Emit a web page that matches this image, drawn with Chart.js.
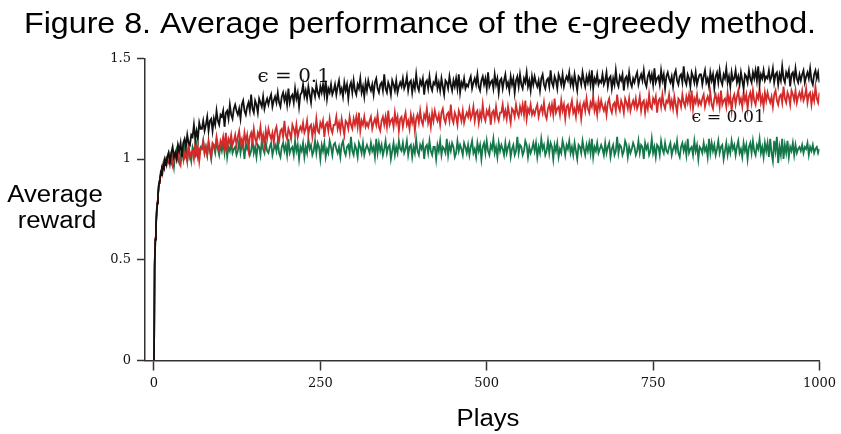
<!DOCTYPE html>
<html>
<head>
<meta charset="utf-8">
<script src="https://cdn.jsdelivr.net/npm/chart.js@4.4.1/dist/chart.umd.min.js"></script>
<style>
  html, body { margin: 0; padding: 0; background: #fff; }
  #wrap { width: 841px; height: 434px; }
</style>
</head>
<body>
<div id="wrap"><canvas id="chart" width="841" height="434"></canvas></div>
<script>
// plays: every play up to 20, then every 2nd play
const plays = [
  0, 1, 2, 3, 4, 5, 6, 7, 8, 9, 10, 11, 12, 13, 14, 15, 16, 17, 18, 19, 20,
  22, 24, 26, 28, 30, 32, 34, 36, 38, 40, 42, 44, 46, 48, 50, 52, 54, 56, 58, 60, 62, 64, 66, 68, 70,
  72, 74, 76, 78, 80, 82, 84, 86, 88, 90, 92, 94, 96, 98, 100, 102, 104, 106, 108, 110, 112, 114, 116, 118, 120,
  122, 124, 126, 128, 130, 132, 134, 136, 138, 140, 142, 144, 146, 148, 150, 152, 154, 156, 158, 160, 162, 164, 166, 168, 170,
  172, 174, 176, 178, 180, 182, 184, 186, 188, 190, 192, 194, 196, 198, 200, 202, 204, 206, 208, 210, 212, 214, 216, 218, 220,
  222, 224, 226, 228, 230, 232, 234, 236, 238, 240, 242, 244, 246, 248, 250, 252, 254, 256, 258, 260, 262, 264, 266, 268, 270,
  272, 274, 276, 278, 280, 282, 284, 286, 288, 290, 292, 294, 296, 298, 300, 302, 304, 306, 308, 310, 312, 314, 316, 318, 320,
  322, 324, 326, 328, 330, 332, 334, 336, 338, 340, 342, 344, 346, 348, 350, 352, 354, 356, 358, 360, 362, 364, 366, 368, 370,
  372, 374, 376, 378, 380, 382, 384, 386, 388, 390, 392, 394, 396, 398, 400, 402, 404, 406, 408, 410, 412, 414, 416, 418, 420,
  422, 424, 426, 428, 430, 432, 434, 436, 438, 440, 442, 444, 446, 448, 450, 452, 454, 456, 458, 460, 462, 464, 466, 468, 470,
  472, 474, 476, 478, 480, 482, 484, 486, 488, 490, 492, 494, 496, 498, 500, 502, 504, 506, 508, 510, 512, 514, 516, 518, 520,
  522, 524, 526, 528, 530, 532, 534, 536, 538, 540, 542, 544, 546, 548, 550, 552, 554, 556, 558, 560, 562, 564, 566, 568, 570,
  572, 574, 576, 578, 580, 582, 584, 586, 588, 590, 592, 594, 596, 598, 600, 602, 604, 606, 608, 610, 612, 614, 616, 618, 620,
  622, 624, 626, 628, 630, 632, 634, 636, 638, 640, 642, 644, 646, 648, 650, 652, 654, 656, 658, 660, 662, 664, 666, 668, 670,
  672, 674, 676, 678, 680, 682, 684, 686, 688, 690, 692, 694, 696, 698, 700, 702, 704, 706, 708, 710, 712, 714, 716, 718, 720,
  722, 724, 726, 728, 730, 732, 734, 736, 738, 740, 742, 744, 746, 748, 750, 752, 754, 756, 758, 760, 762, 764, 766, 768, 770,
  772, 774, 776, 778, 780, 782, 784, 786, 788, 790, 792, 794, 796, 798, 800, 802, 804, 806, 808, 810, 812, 814, 816, 818, 820,
  822, 824, 826, 828, 830, 832, 834, 836, 838, 840, 842, 844, 846, 848, 850, 852, 854, 856, 858, 860, 862, 864, 866, 868, 870,
  872, 874, 876, 878, 880, 882, 884, 886, 888, 890, 892, 894, 896, 898, 900, 902, 904, 906, 908, 910, 912, 914, 916, 918, 920,
  922, 924, 926, 928, 930, 932, 934, 936, 938, 940, 942, 944, 946, 948, 950, 952, 954, 956, 958, 960, 962, 964, 966, 968, 970,
  972, 974, 976, 978, 980, 982, 984, 986, 988, 990, 992, 994, 996, 998, 1000
];

// epsilon = 0.1 (black)
const eps01 = [
  0, 0.47, 0.60, 0.67, 0.73, 0.78, 0.83, 0.86, 0.89, 0.90, 0.93, 0.92, 0.95, 0.94, 0.97, 0.96, 0.99, 0.97, 1.00, 0.98, 1.01,
  1.03, 0.98, 1.03, 1.06, 1.01, 1.03, 1.00, 1.07, 1.04, 1.08, 1.01, 1.08, 1.10, 1.06, 1.12, 1.08, 1.07, 1.12, 1.11, 1.17, 1.10, 1.14, 1.10, 1.18, 1.15,
  1.15, 1.19, 1.14, 1.17, 1.21, 1.14, 1.19, 1.20, 1.14, 1.20, 1.17, 1.24, 1.19, 1.17, 1.22, 1.21, 1.24, 1.16, 1.23, 1.24, 1.20, 1.27, 1.22, 1.20, 1.25,
  1.27, 1.24, 1.22, 1.25, 1.20, 1.27, 1.29, 1.24, 1.22, 1.26, 1.28, 1.24, 1.32, 1.25, 1.23, 1.29, 1.27, 1.23, 1.30, 1.28, 1.26, 1.31, 1.25, 1.28, 1.30,
  1.27, 1.30, 1.32, 1.26, 1.29, 1.31, 1.28, 1.33, 1.28, 1.26, 1.31, 1.33, 1.29, 1.32, 1.27, 1.35, 1.28, 1.31, 1.32, 1.28, 1.35, 1.30, 1.33, 1.26, 1.32,
  1.33, 1.37, 1.31, 1.34, 1.30, 1.36, 1.32, 1.28, 1.35, 1.34, 1.31, 1.37, 1.33, 1.31, 1.36, 1.33, 1.37, 1.32, 1.39, 1.30, 1.35, 1.33, 1.37, 1.32, 1.34,
  1.37, 1.32, 1.36, 1.39, 1.33, 1.35, 1.31, 1.38, 1.34, 1.37, 1.30, 1.36, 1.38, 1.33, 1.39, 1.34, 1.32, 1.37, 1.35, 1.40, 1.33, 1.36, 1.31, 1.38, 1.34,
  1.39, 1.36, 1.34, 1.37, 1.32, 1.38, 1.40, 1.35, 1.33, 1.37, 1.38, 1.34, 1.42, 1.35, 1.33, 1.38, 1.36, 1.32, 1.39, 1.37, 1.34, 1.39, 1.33, 1.36, 1.38,
  1.36, 1.40, 1.35, 1.37, 1.41, 1.34, 1.38, 1.39, 1.33, 1.38, 1.35, 1.42, 1.36, 1.34, 1.39, 1.37, 1.40, 1.32, 1.38, 1.39, 1.35, 1.41, 1.36, 1.34, 1.38,
  1.37, 1.41, 1.35, 1.38, 1.34, 1.40, 1.36, 1.32, 1.39, 1.38, 1.35, 1.41, 1.37, 1.34, 1.39, 1.36, 1.40, 1.35, 1.42, 1.33, 1.38, 1.36, 1.40, 1.35, 1.37,
  1.36, 1.39, 1.41, 1.35, 1.38, 1.40, 1.37, 1.42, 1.36, 1.34, 1.39, 1.41, 1.37, 1.40, 1.35, 1.43, 1.36, 1.38, 1.39, 1.35, 1.42, 1.37, 1.40, 1.33, 1.39,
  1.40, 1.35, 1.39, 1.42, 1.36, 1.38, 1.34, 1.41, 1.37, 1.40, 1.33, 1.39, 1.41, 1.36, 1.42, 1.37, 1.35, 1.40, 1.38, 1.43, 1.36, 1.39, 1.34, 1.41, 1.37,
  1.41, 1.38, 1.36, 1.39, 1.34, 1.40, 1.42, 1.37, 1.35, 1.39, 1.40, 1.36, 1.44, 1.38, 1.36, 1.41, 1.39, 1.35, 1.42, 1.40, 1.37, 1.42, 1.36, 1.39, 1.41,
  1.39, 1.43, 1.37, 1.40, 1.36, 1.42, 1.38, 1.34, 1.41, 1.40, 1.37, 1.43, 1.39, 1.36, 1.41, 1.38, 1.42, 1.37, 1.44, 1.35, 1.40, 1.38, 1.42, 1.37, 1.39,
  1.38, 1.42, 1.37, 1.39, 1.43, 1.36, 1.40, 1.41, 1.35, 1.40, 1.37, 1.44, 1.38, 1.36, 1.41, 1.39, 1.42, 1.34, 1.40, 1.41, 1.37, 1.43, 1.38, 1.36, 1.40,
  1.38, 1.41, 1.43, 1.37, 1.40, 1.42, 1.39, 1.44, 1.38, 1.36, 1.41, 1.43, 1.39, 1.42, 1.37, 1.45, 1.38, 1.40, 1.41, 1.37, 1.44, 1.39, 1.42, 1.35, 1.41,
  1.43, 1.40, 1.38, 1.41, 1.36, 1.42, 1.44, 1.39, 1.37, 1.41, 1.42, 1.38, 1.46, 1.39, 1.37, 1.42, 1.40, 1.36, 1.43, 1.41, 1.38, 1.43, 1.37, 1.40, 1.42,
  1.42, 1.37, 1.41, 1.44, 1.38, 1.40, 1.36, 1.43, 1.39, 1.42, 1.35, 1.41, 1.43, 1.38, 1.44, 1.39, 1.37, 1.42, 1.40, 1.45, 1.38, 1.41, 1.36, 1.43, 1.39,
  1.40, 1.44, 1.38, 1.41, 1.37, 1.43, 1.39, 1.35, 1.42, 1.41, 1.38, 1.44, 1.40, 1.38, 1.43, 1.40, 1.44, 1.39, 1.46, 1.37, 1.42, 1.40, 1.44, 1.39, 1.41,
  1.40, 1.44, 1.39, 1.41, 1.45, 1.38, 1.42, 1.43, 1.37, 1.42, 1.39, 1.46, 1.40, 1.38, 1.43, 1.41, 1.44, 1.36, 1.42, 1.43, 1.39, 1.45, 1.40, 1.38, 1.42,
  1.39, 1.42, 1.44, 1.38, 1.41, 1.43, 1.40, 1.45, 1.39, 1.37, 1.42, 1.44, 1.40, 1.43, 1.38
];

// epsilon = 0.01 (red)
const eps001 = [
  0, 0.47, 0.61, 0.69, 0.74, 0.79, 0.82, 0.87, 0.88, 0.91, 0.92, 0.94, 0.93, 0.96, 0.95, 0.98, 0.97, 0.99, 0.98, 1.00, 0.99,
  0.98, 1.01, 1.03, 0.97, 1.00, 1.03, 1.00, 1.05, 0.99, 0.97, 1.03, 1.05, 1.01, 1.04, 0.99, 1.08, 1.01, 1.03, 1.04, 1.00, 1.08, 1.03, 1.06, 0.99, 1.05,
  1.05, 1.09, 1.03, 1.06, 1.02, 1.09, 1.05, 1.01, 1.08, 1.07, 1.05, 1.11, 1.07, 1.04, 1.09, 1.07, 1.11, 1.06, 1.13, 1.04, 1.10, 1.08, 1.12, 1.07, 1.09,
  1.12, 1.07, 1.11, 1.14, 1.08, 1.10, 1.06, 1.13, 1.09, 1.12, 1.05, 1.11, 1.13, 1.09, 1.15, 1.10, 1.08, 1.13, 1.11, 1.16, 1.09, 1.12, 1.07, 1.14, 1.10,
  1.15, 1.12, 1.10, 1.13, 1.08, 1.14, 1.16, 1.11, 1.09, 1.14, 1.15, 1.11, 1.19, 1.12, 1.10, 1.15, 1.13, 1.10, 1.17, 1.15, 1.12, 1.17, 1.11, 1.14, 1.16,
  1.14, 1.18, 1.13, 1.15, 1.19, 1.12, 1.16, 1.17, 1.11, 1.16, 1.13, 1.20, 1.14, 1.13, 1.18, 1.16, 1.19, 1.11, 1.17, 1.18, 1.14, 1.20, 1.15, 1.13, 1.17,
  1.17, 1.21, 1.15, 1.18, 1.14, 1.20, 1.16, 1.12, 1.19, 1.18, 1.15, 1.21, 1.17, 1.15, 1.20, 1.17, 1.21, 1.16, 1.23, 1.14, 1.19, 1.17, 1.21, 1.16, 1.18,
  1.16, 1.19, 1.21, 1.15, 1.18, 1.20, 1.17, 1.22, 1.16, 1.14, 1.19, 1.21, 1.17, 1.21, 1.16, 1.24, 1.17, 1.19, 1.20, 1.16, 1.23, 1.18, 1.21, 1.14, 1.20,
  1.21, 1.16, 1.20, 1.23, 1.17, 1.19, 1.15, 1.22, 1.18, 1.21, 1.14, 1.20, 1.22, 1.18, 1.24, 1.19, 1.17, 1.22, 1.20, 1.25, 1.18, 1.21, 1.16, 1.23, 1.19,
  1.24, 1.21, 1.19, 1.22, 1.17, 1.23, 1.25, 1.20, 1.18, 1.22, 1.23, 1.19, 1.27, 1.20, 1.18, 1.23, 1.21, 1.17, 1.24, 1.22, 1.19, 1.24, 1.18, 1.21, 1.23,
  1.21, 1.25, 1.20, 1.22, 1.26, 1.19, 1.23, 1.24, 1.18, 1.23, 1.20, 1.27, 1.21, 1.19, 1.24, 1.22, 1.25, 1.17, 1.23, 1.24, 1.20, 1.26, 1.21, 1.19, 1.23,
  1.23, 1.27, 1.21, 1.24, 1.20, 1.26, 1.22, 1.18, 1.25, 1.24, 1.21, 1.27, 1.23, 1.21, 1.26, 1.23, 1.27, 1.22, 1.29, 1.20, 1.25, 1.23, 1.27, 1.22, 1.24,
  1.22, 1.25, 1.27, 1.21, 1.24, 1.26, 1.23, 1.28, 1.22, 1.20, 1.25, 1.27, 1.23, 1.27, 1.22, 1.30, 1.23, 1.25, 1.26, 1.22, 1.29, 1.24, 1.27, 1.20, 1.26,
  1.27, 1.22, 1.26, 1.29, 1.23, 1.25, 1.21, 1.28, 1.24, 1.27, 1.20, 1.26, 1.28, 1.24, 1.30, 1.25, 1.23, 1.28, 1.26, 1.31, 1.24, 1.27, 1.22, 1.29, 1.25,
  1.29, 1.26, 1.24, 1.27, 1.22, 1.28, 1.30, 1.25, 1.23, 1.27, 1.28, 1.24, 1.32, 1.26, 1.24, 1.29, 1.27, 1.23, 1.30, 1.28, 1.25, 1.30, 1.24, 1.27, 1.29,
  1.26, 1.30, 1.25, 1.27, 1.31, 1.24, 1.28, 1.29, 1.23, 1.28, 1.25, 1.32, 1.26, 1.25, 1.30, 1.28, 1.31, 1.23, 1.29, 1.30, 1.26, 1.32, 1.27, 1.25, 1.29,
  1.28, 1.32, 1.26, 1.29, 1.25, 1.31, 1.27, 1.23, 1.30, 1.29, 1.26, 1.32, 1.28, 1.26, 1.31, 1.28, 1.32, 1.27, 1.34, 1.25, 1.30, 1.28, 1.32, 1.27, 1.29,
  1.27, 1.30, 1.32, 1.26, 1.29, 1.31, 1.28, 1.33, 1.27, 1.25, 1.30, 1.32, 1.28, 1.31, 1.26, 1.34, 1.27, 1.29, 1.30, 1.26, 1.33, 1.28, 1.31, 1.24, 1.30,
  1.32, 1.27, 1.31, 1.34, 1.28, 1.30, 1.26, 1.33, 1.29, 1.32, 1.25, 1.31, 1.33, 1.28, 1.34, 1.29, 1.27, 1.32, 1.30, 1.35, 1.28, 1.31, 1.26, 1.33, 1.29,
  1.33, 1.30, 1.28, 1.31, 1.26, 1.32, 1.34, 1.29, 1.27, 1.31, 1.32, 1.28, 1.36, 1.30, 1.28, 1.33, 1.31, 1.27, 1.34, 1.32, 1.29, 1.34, 1.28, 1.31, 1.33,
  1.30, 1.34, 1.29, 1.31, 1.35, 1.28, 1.32, 1.33, 1.27, 1.32, 1.29, 1.36, 1.30, 1.28, 1.33
];

// epsilon = 0 (green, greedy)
const eps0 = [
  0, 0.46, 0.60, 0.68, 0.73, 0.78, 0.82, 0.85, 0.88, 0.90, 0.92, 0.93, 0.94, 0.96, 0.95, 0.97, 0.98, 0.97, 0.99, 0.98, 1.00,
  1.03, 1.00, 0.98, 1.01, 0.96, 1.03, 1.05, 1.00, 0.98, 1.02, 1.04, 1.00, 1.08, 1.01, 0.99, 1.05, 1.03, 0.99, 1.06, 1.04, 1.02, 1.07, 1.01, 1.04, 1.06,
  1.05, 1.09, 1.03, 1.06, 1.02, 1.08, 1.04, 1.00, 1.07, 1.06, 1.03, 1.09, 1.05, 1.02, 1.07, 1.04, 1.08, 1.03, 1.10, 1.01, 1.06, 1.04, 1.08, 1.03, 1.05,
  1.06, 1.02, 1.04, 1.09, 1.03, 1.07, 1.06, 1.00, 1.08, 1.05, 1.07, 1.02, 1.04, 1.10, 1.03, 1.06, 1.01, 1.07, 1.06, 1.02, 1.09, 1.05, 1.03, 1.08, 1.04,
  1.03, 1.06, 1.08, 1.02, 1.05, 1.07, 1.04, 1.09, 1.03, 1.01, 1.06, 1.08, 1.04, 1.07, 1.02, 1.10, 1.03, 1.05, 1.06, 1.02, 1.09, 1.04, 1.07, 1.00, 1.06,
  1.04, 1.08, 1.01, 1.06, 1.03, 1.10, 1.05, 1.07, 1.02, 1.04, 1.09, 1.03, 1.08, 1.06, 1.00, 1.07, 1.04, 1.08, 1.01, 1.05, 1.03, 1.09, 1.06, 1.02, 1.07,
  1.08, 1.05, 1.03, 1.06, 1.01, 1.07, 1.09, 1.04, 1.02, 1.06, 1.07, 1.03, 1.11, 1.04, 1.02, 1.07, 1.05, 1.01, 1.08, 1.06, 1.03, 1.08, 1.02, 1.05, 1.07,
  1.05, 1.03, 1.08, 1.04, 1.06, 1.01, 1.10, 1.03, 1.08, 1.04, 1.07, 1.02, 1.05, 1.09, 1.03, 1.06, 1.07, 1.00, 1.04, 1.08, 1.02, 1.06, 1.03, 1.09, 1.05,
  1.04, 1.08, 1.03, 1.05, 1.09, 1.02, 1.06, 1.07, 1.01, 1.06, 1.03, 1.10, 1.04, 1.02, 1.07, 1.05, 1.08, 1.00, 1.06, 1.07, 1.03, 1.09, 1.04, 1.02, 1.06,
  1.06, 1.00, 1.07, 1.04, 1.09, 1.02, 1.06, 1.05, 1.03, 1.10, 1.02, 1.07, 1.04, 1.08, 1.06, 1.01, 1.03, 1.09, 1.04, 1.07, 1.05, 1.02, 1.08, 1.06, 1.03,
  1.07, 1.02, 1.06, 1.09, 1.03, 1.05, 1.01, 1.08, 1.04, 1.07, 1.00, 1.06, 1.08, 1.03, 1.09, 1.04, 1.02, 1.07, 1.05, 1.10, 1.03, 1.06, 1.01, 1.08, 1.04,
  1.07, 1.05, 1.02, 1.08, 1.03, 1.06, 1.08, 1.01, 1.05, 1.07, 1.02, 1.04, 1.11, 1.03, 1.07, 1.06, 1.02, 1.04, 1.09, 1.07, 1.01, 1.06, 1.03, 1.05, 1.08,
  1.04, 1.08, 1.01, 1.06, 1.03, 1.10, 1.05, 1.07, 1.02, 1.04, 1.09, 1.03, 1.08, 1.06, 1.00, 1.07, 1.04, 1.08, 1.01, 1.05, 1.03, 1.09, 1.06, 1.02, 1.07,
  1.05, 1.09, 1.03, 1.06, 1.02, 1.08, 1.04, 1.00, 1.07, 1.06, 1.03, 1.09, 1.05, 1.02, 1.07, 1.04, 1.08, 1.03, 1.10, 1.01, 1.06, 1.04, 1.08, 1.03, 1.05,
  1.07, 1.05, 1.02, 1.08, 1.03, 1.06, 1.08, 1.01, 1.05, 1.07, 1.02, 1.04, 1.11, 1.03, 1.07, 1.06, 1.02, 1.04, 1.09, 1.07, 1.01, 1.06, 1.03, 1.05, 1.08,
  1.06, 1.02, 1.04, 1.09, 1.03, 1.07, 1.06, 1.00, 1.08, 1.05, 1.07, 1.02, 1.04, 1.10, 1.03, 1.06, 1.01, 1.07, 1.06, 1.02, 1.09, 1.05, 1.03, 1.08, 1.04,
  1.03, 1.06, 1.08, 1.02, 1.05, 1.07, 1.04, 1.09, 1.03, 1.01, 1.06, 1.08, 1.04, 1.07, 1.02, 1.10, 1.03, 1.05, 1.06, 1.02, 1.09, 1.04, 1.07, 1.00, 1.06,
  1.05, 1.03, 1.08, 1.04, 1.06, 1.01, 1.10, 1.03, 1.08, 1.04, 1.07, 1.02, 1.05, 1.09, 1.03, 1.06, 1.07, 1.00, 1.04, 1.08, 1.02, 1.06, 1.03, 1.09, 1.05,
  1.07, 1.02, 1.06, 1.09, 1.03, 1.05, 1.01, 1.08, 1.04, 1.07, 1.00, 1.06, 1.08, 1.03, 1.09, 1.04, 1.02, 1.07, 1.05, 1.10, 1.03, 1.06, 1.01, 1.08, 1.04,
  1.08, 1.01, 1.10, 1.03, 0.99, 1.09, 1.04, 1.11, 0.98, 1.06, 1.02, 1.10, 1.00, 1.07, 1.03, 1.09, 1.01, 1.06, 1.04, 1.08, 1.02, 1.07, 1.03, 1.05, 1.06,
  1.04, 1.07, 1.03, 1.06, 1.05, 1.08, 1.02, 1.06, 1.04, 1.07, 1.03, 1.05, 1.06, 1.03, 1.05
];

const xTicks = [0, 250, 500, 750, 1000];
const yTicks = [0, 0.5, 1, 1.5];

const titleText = 'Figure 8. Average performance of the \u03f5-greedy method.';
const yTitleLines = ['Average', 'reward'];
const xTitleText = 'Plays';
const labelHigh = '\u03f5 = 0.1';
const labelLow = '\u03f5 = 0.01';

const toPoints = vals => plays.map((p, i) => ({ x: p, y: vals[i] }));

const sans = '"Liberation Sans", Arial, sans-serif';
const serif = '"DejaVu Serif", serif';

function stretchedText(ctx, text, x, y, font, sx) {
  ctx.save();
  ctx.font = font;
  ctx.textAlign = 'center';
  ctx.textBaseline = 'alphabetic';
  ctx.translate(x, y);
  ctx.scale(sx, 1);
  ctx.fillText(text, 0, 0);
  ctx.restore();
}

const textPlugin = {
  id: 'figureTexts',
  afterDraw(chart) {
    const ctx = chart.ctx;
    const xs = chart.scales.x, ys = chart.scales.y;
    ctx.save();
    ctx.fillStyle = '#000';
    stretchedText(ctx, titleText, 420, 33, '29px ' + sans, 1.11);
    stretchedText(ctx, yTitleLines[0], 55, 202, '23px ' + sans, 1.12);
    stretchedText(ctx, yTitleLines[1], 57, 228, '23px ' + sans, 1.12);
    stretchedText(ctx, xTitleText, 488, 426, '23px ' + sans, 1.12);
    ctx.fillStyle = '#111';
    stretchedText(ctx, labelHigh, xs.getPixelForValue(210), ys.getPixelForValue(1.382), '19px ' + serif, 1.05);
    stretchedText(ctx, labelLow, xs.getPixelForValue(863), ys.getPixelForValue(1.183), '16px ' + serif, 1.08);
    ctx.restore();
  }
};

const axisColor = '#333';

new Chart(document.getElementById('chart'), {
  type: 'line',
  data: {
    datasets: [
      { label: '\u03f5 = 0.1', data: toPoints(eps01), borderColor: '#111111', order: 0 },
      { label: '\u03f5 = 0.01', data: toPoints(eps001), borderColor: '#d42a2a', order: 1 },
      { label: '\u03f5 = 0', data: toPoints(eps0), borderColor: '#13774a', order: 2 }
    ]
  },
  options: {
    responsive: false,
    animation: false,
    devicePixelRatio: 1,
    layout: { padding: { left: 0, right: 20.5, top: 58.3, bottom: 0 } },
    elements: {
      point: { radius: 0 },
      line: { borderWidth: 1.8, tension: 0 }
    },
    plugins: {
      legend: { display: false },
      tooltip: { enabled: false },
      title: { display: false }
    },
    scales: {
      x: {
        type: 'linear',
        min: -13.5,
        max: 1000,
        afterBuildTicks: s => { s.ticks = xTicks.map(v => ({ value: v })); },
        afterFit: s => { s.height = 73.5; },
        grid: { drawOnChartArea: false, drawTicks: true, tickLength: 10, tickColor: axisColor, tickWidth: 1.5 },
        border: { display: true, color: axisColor, width: 1.5 },
        ticks: {
          autoSkip: false, maxRotation: 0, padding: 5, color: '#111',
          font: { family: serif, size: 13 },
          callback: v => String(v)
        }
      },
      y: {
        min: 0,
        max: 1.5,
        afterBuildTicks: s => { s.ticks = yTicks.map(v => ({ value: v })); },
        afterFit: s => { s.width = 145; },
        grid: { drawOnChartArea: false, drawTicks: true, tickLength: 8, tickColor: axisColor, tickWidth: 1.5 },
        border: { display: true, color: axisColor, width: 1.5 },
        ticks: {
          padding: 6, color: '#111',
          font: { family: serif, size: 13 },
          callback: v => String(v)
        }
      }
    }
  },
  plugins: [textPlugin]
});
</script>
</body>
</html>
